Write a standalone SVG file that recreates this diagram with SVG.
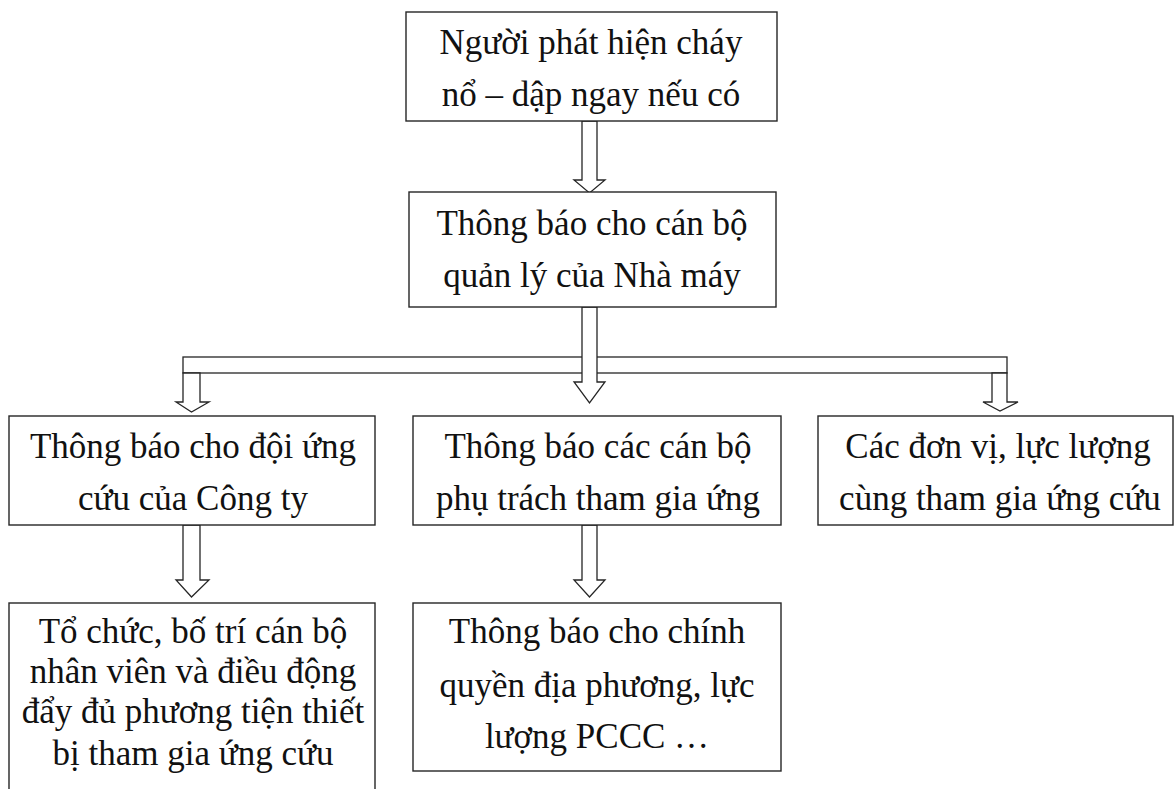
<svg xmlns="http://www.w3.org/2000/svg" width="1174" height="789" viewBox="0 0 1174 789">
  <style>
    .box { fill: #ffffff; stroke: #262626; stroke-width: 1.4; }
    .arrow { fill: #ffffff; stroke: #262626; stroke-width: 1.3; stroke-linejoin: miter; }
    .label { font-family: "Liberation Serif", "Times New Roman", serif; font-size: 35px; fill: #111111; text-anchor: middle; }
  </style>
  <rect width="1174" height="789" fill="#ffffff"/>

  <!-- connectors: hollow block arrows and the distribution bar -->
  <g id="connectors">
    <polygon class="arrow" points="582,121 597,121 597,180 605,180 589.5,193 574,180 582,180"/>
    <rect class="arrow" x="183" y="357" width="824" height="16"/>
    <polygon class="arrow" points="582,307 597,307 597,382 605,382 589.5,403 574,382 582,382"/>
    <polygon class="arrow" points="183,373 200,373 200,402 209,402 191.5,412 176,402 183,402"/>
    <polygon class="arrow" points="992,373 1007,373 1007,402 1018,402 1000,411 983,402 992,402"/>
    <polygon class="arrow" points="183,525 200,525 200,580 209,580 191.5,597 176,580 183,580"/>
    <polygon class="arrow" points="582,525 597,525 597,580 605,580 589.5,597 574,580 582,580"/>
  </g>

  <g id="detect">
    <rect class="box" x="406" y="12" width="371" height="109"/>
    <text class="label" x="591" y="54">Người phát hiện cháy</text>
    <text class="label" x="591" y="106">nổ – dập ngay nếu có</text>
  </g>

  <g id="notify-manager">
    <rect class="box" x="409" y="192" width="367" height="115"/>
    <text class="label" x="592" y="235">Thông báo cho cán bộ</text>
    <text class="label" x="592" y="287">quản lý của Nhà máy</text>
  </g>

  <g id="notify-team">
    <rect class="box" x="9" y="416" width="366" height="109"/>
    <text class="label" x="193" y="458">Thông báo cho đội ứng</text>
    <text class="label" x="193" y="510">cứu của Công ty</text>
  </g>

  <g id="notify-officers">
    <rect class="box" x="413" y="416" width="368" height="109"/>
    <text class="label" x="598" y="458">Thông báo các cán bộ</text>
    <text class="label" x="598" y="510">phụ trách tham gia ứng</text>
  </g>

  <g id="other-units">
    <rect class="box" x="818" y="416" width="355" height="109"/>
    <text class="label" x="998" y="458">Các đơn vị, lực lượng</text>
    <text class="label" x="1000" y="510">cùng tham gia ứng cứu</text>
  </g>

  <g id="organize">
    <rect class="box" x="9" y="603" width="366" height="200"/>
    <text class="label" x="193" y="643">Tổ chức, bố trí cán bộ</text>
    <text class="label" x="193" y="683">nhân viên và điều động</text>
    <text class="label" x="193" y="723">đẩy đủ phương tiện thiết</text>
    <text class="label" x="193" y="765">bị tham gia ứng cứu</text>
  </g>

  <g id="notify-authorities">
    <rect class="box" x="413" y="603" width="368" height="168"/>
    <text class="label" x="597" y="643">Thông báo cho chính</text>
    <text class="label" x="597" y="697">quyền địa phương, lực</text>
    <text class="label" x="597" y="748">lượng PCCC …</text>
  </g>
</svg>
